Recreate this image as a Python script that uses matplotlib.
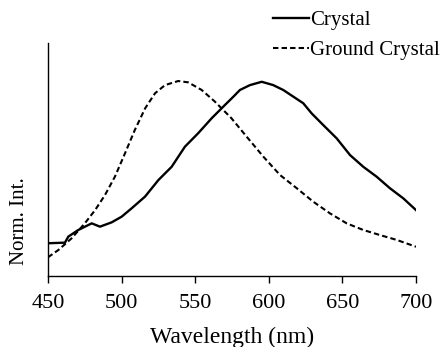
import matplotlib.pyplot as plt

plt.rcParams["font.family"] = ["Liberation Serif", "DejaVu Serif"]

# wavelength (nm) and normalized intensity
wl_crystal = [450, 461.5, 463.8, 470.6, 479.7, 485.3, 493.2, 500, 506.8, 515.9, 525,
              534, 543, 552, 561.2, 570.2, 576, 580.4, 587.2, 595.2, 603, 609.8,
              616.6, 623.4, 629.1, 637, 646.1, 655.2, 664.2, 673.3, 682.3, 691.4, 700]
int_crystal = [0.168, 0.171, 0.202, 0.236, 0.27, 0.253, 0.275, 0.304, 0.347, 0.407,
               0.492, 0.56, 0.663, 0.732, 0.809, 0.877, 0.92, 0.954, 0.979, 0.996,
               0.979, 0.954, 0.92, 0.886, 0.834, 0.774, 0.706, 0.62, 0.56, 0.509,
               0.45, 0.398, 0.338]

wl_ground = [450, 457, 466, 475, 482, 488.7, 495.5, 502.3, 509, 516, 522.7, 529.5,
             538.5, 545.3, 554.4, 563.4, 574.5, 585, 596.3, 607.6, 619, 630.2, 641.6,
             652.9, 664.2, 675.5, 686.9, 700]
int_ground = [0.096, 0.133, 0.193, 0.27, 0.338, 0.415, 0.51, 0.629, 0.749, 0.86,
              0.937, 0.979, 1.0, 0.993, 0.954, 0.894, 0.81, 0.714, 0.612, 0.518,
              0.45, 0.381, 0.321, 0.27, 0.236, 0.21, 0.185, 0.15]

fig = plt.figure(figsize=(4.4, 3.47), dpi=100)
ax = fig.add_axes([48 / 440, 71 / 347, 368 / 440, 233 / 347])

ax.plot(wl_crystal, int_crystal, color="black", lw=1.7, label="Crystal")
ax.plot(wl_ground, int_ground, color="black", lw=1.5, ls=(0, (2.6, 1.5)),
        label="Ground Crystal")

ax.set_xlim(450, 700)
ax.set_ylim(0, 233 / 195)
ax.set_xticks([450, 500, 550, 600, 650, 700])
ax.set_yticks([])
ax.tick_params(axis="x", direction="out", length=5, width=1, labelsize=16, pad=8)
for s in ["top", "right"]:
    ax.spines[s].set_visible(False)
for s in ["left", "bottom"]:
    ax.spines[s].set_linewidth(1)

ax.set_xlabel("Wavelength (nm)", fontsize=17, labelpad=10)
fig.text(20 / 440, 1 - 221 / 347, "Norm. Int.", rotation=90, fontsize=15,
         ha="center", va="center")

fig.legend(loc="upper left", bbox_to_anchor=(260 / 440, 1.005), frameon=False,
           fontsize=15, handlelength=1.75, handletextpad=0.05, labelspacing=0.5,
           borderaxespad=0.2)

fig.savefig("out.png", dpi=100)
